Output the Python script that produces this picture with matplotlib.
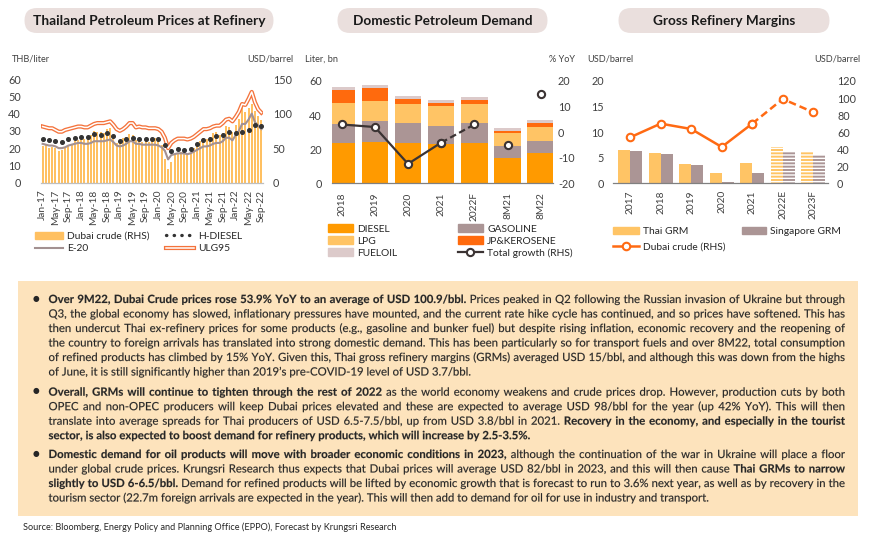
import matplotlib
matplotlib.use('Agg')
import matplotlib.pyplot as plt
import numpy as np
from matplotlib.patches import FancyBboxPatch, Rectangle, Patch, PathPatch
from matplotlib.lines import Line2D
from matplotlib.textpath import TextPath
from matplotlib.font_manager import FontProperties
from matplotlib.transforms import Affine2D

plt.rcParams['font.family'] = ['Lato', 'DejaVu Sans']
plt.rcParams['hatch.linewidth'] = 1.0
plt.rcParams['axes.unicode_minus'] = False

# ---- chart 1 : Thailand petroleum prices at refinery (monthly Jan-17 .. Sep-22)
dubai_m = [53.7, 54.5, 50.9, 51.9, 50.2, 46.5, 47.6, 50.2, 53.4, 55.6, 60.7, 61.4,
           66.2, 62.7, 62.7, 68.3, 74.4, 73.6, 73.1, 72.5, 77.2, 79.4, 65.6, 57.3,
           59.1, 64.7, 66.6, 70.6, 69.4, 61.8, 63.3, 59.1, 61.1, 59.4, 62.1, 65.0,
           64.3, 54.2, 33.7, 20.4, 30.5, 40.8, 43.3, 44.0, 41.5, 40.7, 43.3, 49.8,
           54.8, 60.9, 64.4, 62.9, 66.3, 71.6, 72.9, 69.5, 72.6, 81.6, 80.3, 73.2,
           83.5, 92.4, 110.9, 102.8, 108.2, 113.3, 103.1, 96.6, 90.6]
ulg95 = [32.5, 32, 31.5, 31.5, 30.5, 29.5, 29.5, 30.5, 31, 31.5, 32, 32.5,
         32.5, 32, 32, 33, 34, 34.5, 34.5, 34.5, 35, 35.5, 33.5, 31,
         30, 31, 32.5, 34.5, 34.5, 32, 32.5, 32, 32, 31.5, 31.5, 31.5,
         31, 29.5, 26, 20, 23, 24.5, 25.5, 25.5, 25.5, 25, 25.5, 26.5,
         28, 29.5, 31, 31, 31.5, 32.5, 33, 33, 34.5, 36.5, 37, 35.5,
         38, 41, 45.5, 45, 48.5, 52.5, 46.5, 42.5, 40.5]
e20 = [22.5, 22, 21.5, 21.5, 21, 20, 20, 20.5, 21.5, 22, 22.5, 23,
       23, 22.5, 22.5, 23, 24, 24, 24, 24, 24.5, 25, 23.5, 21.5,
       21, 21.5, 22.5, 24, 24, 22.5, 22.5, 22, 22, 22, 22, 22,
       21.5, 20.5, 18.5, 13.5, 16, 16.5, 17, 17, 17, 16.5, 17, 18,
       19, 20, 21, 21, 21.5, 22.5, 23, 23, 24, 26, 26, 24.5,
       27.5, 30, 34, 34, 36.5, 40, 35, 33, 31]
h_diesel = [25.5, 25, 24.5, 24.5, 24, 23.5, 23.5, 24, 25, 25.5, 26, 26.5,
            26.5, 26, 26.5, 27, 28, 28, 27.5, 28, 29, 29.5, 27, 25,
            24, 24.5, 25, 26, 26, 25, 25.5, 25, 25, 25, 25.5, 25.5,
            25, 24, 22, 17.5, 18.5, 19, 19.5, 19.5, 19, 19, 19.5, 21,
            22.5, 23.5, 24.5, 24.5, 25, 26.5, 27, 26.5, 27.5, 29, 29.5, 28,
            28.5, 29, 29.5, 29.5, 30.5, 32, 33.5, 34, 33]
month_ticks = ['Jan-17', 'May-17', 'Sep-17', 'Jan-18', 'May-18', 'Sep-18',
               'Jan-19', 'May-19', 'Sep-19', 'Jan-20', 'May-20', 'Sep-20',
               'Jan-21', 'May-21', 'Sep-21', 'Jan-22', 'May-22', 'Sep-22']

# ---- chart 2 : domestic petroleum demand
demand_cats = ['2018', '2019', '2020', '2021', '2022F', '8M21', '8M22']
diesel = [23.5, 24.5, 23.7, 23.1, 23.5, 15.1, 17.6]
gasoline = [11.4, 12.0, 11.8, 10.6, 12.0, 6.9, 7.3]
lpg = [12.4, 11.9, 10.8, 11.4, 11.2, 7.6, 8.2]
jp_kero = [7.2, 7.5, 2.9, 1.8, 1.9, 1.0, 2.2]
fueloil = [2.2, 1.9, 1.8, 2.1, 1.8, 1.6, 1.6]
total_growth = [3.0, 2.0, -12.4, -4.1, 3.0, -5.1, 15.0]

# ---- chart 3 : gross refinery margins
grm_cats = ['2017', '2018', '2019', '2020', '2021', '2022E', '2023F']
thai_grm = [6.5, 5.9, 3.8, 2.0, 3.9, 7.0, 6.3]
sing_grm = [6.25, 5.7, 3.5, 0.3, 2.0, 6.3, 5.6]
dubai_y = [53.9, 70.0, 63.7, 42.6, 70.0, 98.9, 83.3]

W, H = 870, 544
fig = plt.figure(figsize=(W / 100, H / 100), dpi=100)
TXT = '#404040'
BODY = '#262626'


def px_rect(x0, y0, x1, y1):
    return [x0 / W, 1 - y1 / H, (x1 - x0) / W, (y1 - y0) / H]


# background layer in pixel coordinates
bg = fig.add_axes([0, 0, 1, 1], zorder=-1)
bg.set_xlim(0, W)
bg.set_ylim(H, 0)
bg.axis('off')
renderer = fig.canvas.get_renderer()


def text_width(s, size, weight='normal'):
    t = bg.text(0, 0, s, fontsize=size, fontweight=weight)
    w = t.get_window_extent(renderer).width
    t.remove()
    return w


def fit_text(x, y, s, target_w, weight='normal', ha='center', color='#1a1a1a'):
    size = 10 * target_w / text_width(s, 10, weight)
    bg.text(x, y, s, fontsize=size, fontweight=weight, ha=ha, va='center', color=color)


def pill(x0, x1):
    y0, y1 = 8, 33
    r = (y1 - y0) / 2
    bg.add_patch(FancyBboxPatch((x0 + r, y0), x1 - x0 - 2 * r, y1 - y0,
                                boxstyle='round,pad=0,rounding_size=%g' % r,
                                fc='#EADFDD', ec='none'))
    return (x0 + x1) / 2, (y0 + y1) / 2


def style_axes(ax, axr, lpad, rpad, xpad):
    for a in (ax, axr):
        for s in a.spines.values():
            s.set_visible(False)
        a.tick_params(length=0, labelsize=7.8, colors=TXT)
    ax.spines['bottom'].set_visible(True)
    ax.spines['bottom'].set_color('#BFBFBF')
    ax.spines['bottom'].set_linewidth(0.9)
    ax.tick_params(axis='y', pad=lpad)
    axr.tick_params(axis='y', pad=rpad)
    ax.tick_params(axis='x', pad=xpad, labelsize=7.3, rotation=90)


def col_legend(handles, labels, x, y_center, hl, spacing):
    fig.legend(handles, labels, loc='upper left',
               bbox_to_anchor=(x / W, 1 - (y_center - 6.5) / H),
               frameon=False, fontsize=7.4, handlelength=hl, handletextpad=0.45,
               labelspacing=spacing, borderpad=0, borderaxespad=0,
               labelcolor=BODY)


# ================= chart 1
cx, cy = pill(12, 286)
fit_text(cx, cy + 0.5, 'Thailand Petroleum Prices at Refinery', 233, 'bold')
bg.text(12, 59, 'THB/liter', fontsize=6.6, color=TXT, va='center')
bg.text(293, 59, 'USD/barrel', fontsize=6.6, color=TXT, va='center', ha='right')

ax1 = fig.add_axes(px_rect(41, 79, 263, 182.7))
ax1r = ax1.twinx()
ax1.set_zorder(ax1r.get_zorder() + 1)
ax1.patch.set_visible(False)
xm = np.arange(len(dubai_m))
ax1r.bar(xm, dubai_m, width=0.62, color='#FFC061')
ax1.plot(xm, ulg95, color='#F4733C', lw=3.0, solid_joinstyle='round')
ax1.plot(xm, ulg95, color='white', lw=1.1, solid_joinstyle='round')
ax1.plot(xm, e20, color='#A39191', lw=1.5)
ax1.plot(xm, h_diesel, ls='none', marker='o', ms=2.6, color='#333333', markevery=2)
ax1.set_xlim(-0.5, len(xm) - 0.5)
ax1.set_ylim(0, 60)
ax1r.set_ylim(0, 150)
ax1.set_yticks(range(0, 61, 10))
ax1r.set_yticks([0, 50, 100, 150])
ax1.set_xticks(range(0, len(xm), 4))
ax1.set_xticklabels(month_ticks)
style_axes(ax1, ax1r, 14.5, 7.0, 5.0)

h_dub = Patch(color='#FFC061')
h_e20 = Line2D([], [], color='#A39191', lw=1.5)
h_hd = Line2D([], [], color='#333333', ls=(0, (0.1, 2.2)), lw=2.4, dash_capstyle='round')
h_ulg = (Line2D([], [], color='#F4733C', lw=3.0), Line2D([], [], color='white', lw=1.1))
col_legend([h_dub, h_e20], ['Dubai crude (RHS)', 'E-20'], 35, 238, 2.7, 0.32)
col_legend([h_hd, h_ulg], ['H-DIESEL', 'ULG95'], 166, 238, 2.7, 0.32)

# ================= chart 2
cx, cy = pill(325, 560)
fit_text(cx, cy + 0.5, 'Domestic Petroleum Demand', 180, 'bold')
bg.text(305, 59, 'Liter, bn', fontsize=6.6, color=TXT, va='center')
bg.text(575, 59, '% YoY', fontsize=6.6, color=TXT, va='center', ha='right')

ax2 = fig.add_axes(px_rect(331.7, 81, 553, 183.3))
ax2r = ax2.twinx()
xd = np.arange(len(demand_cats))
layers = [(diesel, 'DIESEL', '#FF9A00'), (gasoline, 'GASOLINE', '#AB9595'),
          (lpg, 'LPG', '#FFC465'), (jp_kero, 'JP&KEROSENE', '#FF6A0D'),
          (fueloil, 'FUELOIL', '#DCCACA')]
bottom = np.zeros(len(xd))
for vals, name, col in layers:
    ax2.bar(xd, vals, bottom=bottom, width=0.8, color=col, label=name)
    bottom += np.array(vals)
gline = dict(color='#3B3333', lw=1.6, marker='o', ms=5.2, mfc='white', mew=1.5)
ax2r.plot(xd[:4], total_growth[:4], **gline)
ax2r.plot(xd[3:5], total_growth[3:5], ls=(0, (3, 1.6)), **gline)
ax2r.plot(xd[5:], total_growth[5:], ls='none', **gline)
ax2.set_xlim(-0.3, 6.37)
ax2.set_ylim(0, 60)
ax2r.set_ylim(-20, 20)
ax2.set_yticks([0, 20, 40, 60])
ax2r.set_yticks(range(-20, 21, 10))
ax2.set_xticks(xd)
ax2.set_xticklabels(demand_cats)
style_axes(ax2, ax2r, 7.0, 3.6, 6.5)
ax2.spines['bottom'].set_color('#808080')

hp = {name: Patch(color=col) for _, name, col in layers}
h_g = Line2D([], [], color='#3B3333', lw=1.6, marker='o', ms=5.2, mfc='white', mew=1.5)
col_legend([hp['DIESEL'], hp['LPG'], hp['FUELOIL']], ['DIESEL', 'LPG', 'FUELOIL'],
           328, 231, 2.4, 0.27)
col_legend([hp['GASOLINE'], hp['JP&KEROSENE'], h_g],
           ['GASOLINE', 'JP&KEROSENE', 'Total growth (RHS)'], 458, 231, 2.4, 0.27)

# ================= chart 3
cx, cy = pill(606, 842)
fit_text(cx, cy + 0.5, 'Gross Refinery Margins', 142, 'bold')
bg.text(587, 59, 'USD/barrel', fontsize=6.6, color=TXT, va='center')
bg.text(860, 59, 'USD/barrel', fontsize=6.6, color=TXT, va='center', ha='right')

ax3 = fig.add_axes(px_rect(613.3, 81, 828, 183.3))
ax3r = ax3.twinx()
xg = np.arange(len(grm_cats))
bw = 0.39
for i in xg:
    fc_hatch = '-----' if grm_cats[i].endswith(('E', 'F')) else None
    ec = 'white' if fc_hatch else 'none'
    ax3.bar(i - bw / 2, thai_grm[i], width=bw, color='#FFC465', hatch=fc_hatch,
            edgecolor=ec, lw=0)
    ax3.bar(i + bw / 2, sing_grm[i], width=bw, color='#AB9595', hatch=fc_hatch,
            edgecolor=ec, lw=0)
dline = dict(color='#FF6A13', lw=1.8, marker='o', ms=5.4, mfc='white', mew=1.5)
ax3r.plot(xg[:5], dubai_y[:5], **dline)
ax3r.plot(xg[4:], dubai_y[4:], ls=(0, (3, 1.6)), **dline)
ax3.set_xlim(-0.55, 6.48)
ax3.set_ylim(0, 20)
ax3r.set_ylim(0, 120)
ax3.set_yticks(range(0, 21, 5))
ax3r.set_yticks(range(0, 121, 20))
ax3.set_xticks(xg)
ax3.set_xticklabels(grm_cats)
style_axes(ax3, ax3r, 6.7, 6.5, 5.0)
ax3.spines['bottom'].set_color('#808080')

h_d3 = Line2D([], [], color='#FF6A13', lw=1.8, marker='o', ms=5.4, mfc='white', mew=1.5)
col_legend([Patch(color='#FFC465'), h_d3], ['Thai GRM', 'Dubai crude (RHS)'], 613, 233.5, 2.5, 0.62)
col_legend([Patch(color='#AB9595')], ['Singapore GRM'], 742, 233.5, 2.3, 0.62)

# ================= commentary box
bg.add_patch(Rectangle((18, 281), 840, 235, fc='#FDE3BC', ec='none'))

B, R = True, False
paragraphs = [
    [[("Over 9M22, Dubai Crude prices rose 53.9% YoY to an average of USD 100.9/bbl.", B),
      ("Prices peaked in Q2 following the Russian invasion of Ukraine but through", R)],
     [("Q3, the global economy has slowed, inflationary pressures have mounted, and the current rate hike cycle has continued, and so prices have softened. This has", R)],
     [("then undercut Thai ex-refinery prices for some products (e.g., gasoline and bunker fuel) but despite rising inflation, economic recovery and the reopening of", R)],
     [("the country to foreign arrivals has translated into strong domestic demand. This has been particularly so for transport fuels and over 8M22, total consumption", R)],
     [("of refined products has climbed by 15% YoY. Given this, Thai gross refinery margins (GRMs) averaged USD 15/bbl, and although this was down from the highs", R)],
     [("of June, it is still significantly higher than 2019\u2019s pre-COVID-19 level of USD 3.7/bbl.", R)]],
    [[("Overall, GRMs will continue to tighten through the rest of 2022", B),
      ("as the world economy weakens and crude prices drop. However, production cuts by both", R)],
     [("OPEC and non-OPEC producers will keep Dubai prices elevated and these are expected to average USD 98/bbl for the year (up 42% YoY). This will then", R)],
     [("translate into average spreads for Thai producers of USD 6.5-7.5/bbl, up from USD 3.8/bbl in 2021.", R),
      ("Recovery in the economy, and especially in the tourist", B)],
     [("sector, is also expected to boost demand for refinery products, which will increase by 2.5-3.5%.", B)]],
    [[("Domestic demand for oil products will move with broader economic conditions in 2023,", B),
      ("although the continuation of the war in Ukraine will place a floor", R)],
     [("under global crude prices. Krungsri Research thus expects that Dubai prices will average USD 82/bbl in 2023, and this will then cause", R),
      ("Thai GRMs to narrow", B)],
     [("slightly to USD 6-6.5/bbl.", B),
      ("Demand for refined products will be lifted by economic growth that is forecast to run to 3.6% next year, as well as by recovery in the", R)],
     [("tourism sector (22.7m foreign arrivals are expected in the year). This will then add to demand for oil for use in industry and transport.", R)]],
]
para_top = [298.3, 391.0, 453.3]
pitch = 14.5
X0, X1 = 48.5, 845
fp_reg = FontProperties(family='Lato', weight='normal')
fp_bold = FontProperties(family='Lato', weight='bold')


def words_of(line):
    out = []
    for txt, bold in line:
        out += [(w, bold) for w in txt.split()]
    return out


def advance(word, size_px, bold):
    # advance width of a word, from the glyph outlines at the given pixel size
    tp = TextPath((0, 0), word + '|', size=size_px, prop=fp_bold if bold else fp_reg)
    bar = TextPath((0, 0), '|', size=size_px, prop=fp_bold if bold else fp_reg)
    return tp.get_extents().x1 - bar.get_extents().x1


# find a body size (pixels) where every line fits the column
ref = 14.0
sp_ref = advance('a a', ref, False) - advance('aa', ref, False)
widest = 0
for para in paragraphs:
    for line in para:
        ws = words_of(line)
        widest = max(widest, sum(advance(w, ref, b) for w, b in ws) + sp_ref * (len(ws) - 1))
body = ref * (X1 - X0) / widest * 0.995
space = advance('a a', body, False) - advance('aa', body, False)

for para, top in zip(paragraphs, para_top):
    bg.text(35.5, top, '\u25cf', fontsize=5.5, family='DejaVu Sans', color=BODY,
            ha='center', va='center')
    for k, line in enumerate(para):
        ws = words_of(line)
        wid = [advance(w, body, b) for w, b in ws]
        last = k == len(para) - 1
        gap = space if last else (X1 - X0 - sum(wid)) / (len(ws) - 1)
        x = X0
        yb = top + k * pitch + 4.7
        for (w, b), wd in zip(ws, wid):
            tp = TextPath((0, 0), w, size=body, prop=fp_bold if b else fp_reg)
            tr = Affine2D().scale(1, -1).translate(x, yb) + bg.transData
            bg.add_patch(PathPatch(tp, transform=tr, fc=BODY, ec=BODY, lw=0.12))
            x += wd + gap

fit_text(23, 527.7, 'Source: Bloomberg, Energy Policy and Planning Office (EPPO), Forecast by Krungsri Research',
         371, ha='left', color=BODY)

fig.savefig('out.png', dpi=100)
